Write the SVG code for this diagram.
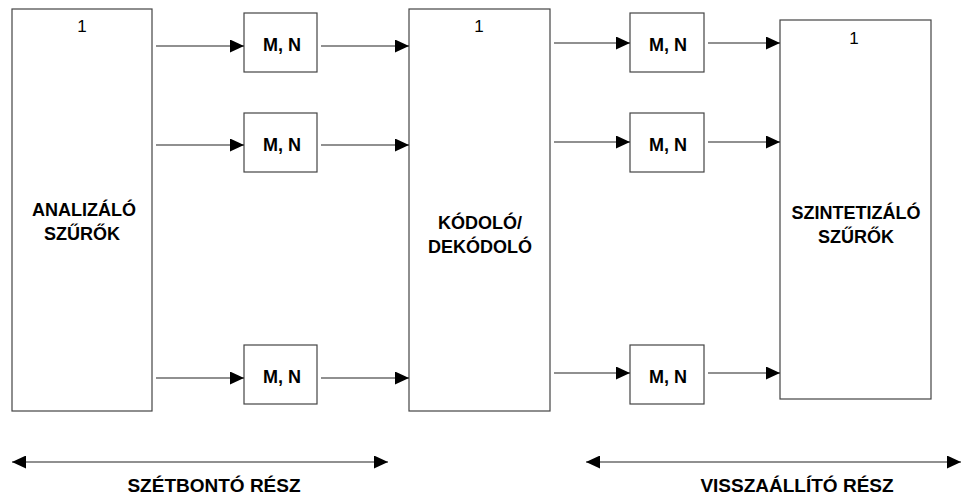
<svg xmlns="http://www.w3.org/2000/svg" width="962" height="499" viewBox="0 0 962 499">
<style>
.box{fill:#fff;stroke:#444;stroke-width:1.2}
.ln{stroke:#222;stroke-width:1.2;fill:none}
.lbl{font-family:"Liberation Sans",Arial,sans-serif;font-weight:bold;font-size:18px;fill:#000;text-anchor:middle}
.big{font-size:19px}
.num{font-family:"Liberation Sans",Arial,sans-serif;font-size:17px;fill:#000;text-anchor:middle}
</style>
<defs>
<marker id="ah" viewBox="0 0 14 13" refX="14" refY="6.5" markerWidth="14" markerHeight="13" markerUnits="userSpaceOnUse" orient="auto">
<path d="M0,0 L14,6.5 L0,13 Z" fill="#000"/>
</marker>
<marker id="ahs" viewBox="0 0 14 13" refX="0" refY="6.5" markerWidth="14" markerHeight="13" markerUnits="userSpaceOnUse" orient="auto">
<path d="M14,0 L0,6.5 L14,13 Z" fill="#000"/>
</marker>
</defs>
<rect width="962" height="499" fill="#fff"/>
<g id="analizalo">
<rect class="box" x="12" y="9" width="140" height="402"/>
<text class="num" x="82" y="32">1</text>
<text class="lbl" x="84" y="216">ANALIZÁLÓ</text>
<text class="lbl" x="82" y="240">SZŰRŐK</text>
</g>
<g id="mn1"><rect class="box" x="244" y="13" width="73" height="59"/><text class="lbl" x="282" y="51">M, N</text></g>
<g id="mn2"><rect class="box" x="244" y="113" width="73" height="59"/><text class="lbl" x="282" y="151">M, N</text></g>
<g id="mn3"><rect class="box" x="244" y="345" width="73" height="59"/><text class="lbl" x="282" y="383">M, N</text></g>
<g id="kodolo">
<rect class="box" x="409" y="9" width="141" height="402"/>
<text class="num" x="479" y="32">1</text>
<text class="lbl" x="480" y="229">KÓDOLÓ/</text>
<text class="lbl" x="480" y="253">DEKÓDOLÓ</text>
</g>
<g id="mn4"><rect class="box" x="630" y="13" width="74" height="59"/><text class="lbl" x="668" y="51">M, N</text></g>
<g id="mn5"><rect class="box" x="630" y="113" width="74" height="59"/><text class="lbl" x="668" y="151">M, N</text></g>
<g id="mn6"><rect class="box" x="630" y="345" width="74" height="59"/><text class="lbl" x="668" y="383">M, N</text></g>
<g id="szintetizalo">
<rect class="box" x="780" y="20" width="151" height="379"/>
<text class="num" x="854" y="44">1</text>
<text class="lbl" x="856" y="219">SZINTETIZÁLÓ</text>
<text class="lbl" x="856" y="243">SZŰRŐK</text>
</g>
<g id="connectors">
<line class="ln" x1="156" y1="46" x2="244" y2="46" marker-end="url(#ah)"/>
<line class="ln" x1="156" y1="145" x2="244" y2="145" marker-end="url(#ah)"/>
<line class="ln" x1="156" y1="378" x2="244" y2="378" marker-end="url(#ah)"/>
<line class="ln" x1="321" y1="46" x2="409" y2="46" marker-end="url(#ah)"/>
<line class="ln" x1="321" y1="145" x2="409" y2="145" marker-end="url(#ah)"/>
<line class="ln" x1="321" y1="378" x2="409" y2="378" marker-end="url(#ah)"/>
<line class="ln" x1="554" y1="43" x2="630" y2="43" marker-end="url(#ah)"/>
<line class="ln" x1="554" y1="142" x2="630" y2="142" marker-end="url(#ah)"/>
<line class="ln" x1="554" y1="373" x2="630" y2="373" marker-end="url(#ah)"/>
<line class="ln" x1="708" y1="43" x2="780" y2="43" marker-end="url(#ah)"/>
<line class="ln" x1="708" y1="142" x2="780" y2="142" marker-end="url(#ah)"/>
<line class="ln" x1="708" y1="373" x2="780" y2="373" marker-end="url(#ah)"/>
<line class="ln" x1="12" y1="462" x2="388" y2="462" marker-start="url(#ahs)" marker-end="url(#ah)"/>
<line class="ln" x1="586" y1="462" x2="961" y2="462" marker-start="url(#ahs)" marker-end="url(#ah)"/>
</g>
<text class="lbl big" x="214" y="492">SZÉTBONTÓ RÉSZ</text>
<text class="lbl big" x="797" y="492">VISSZAÁLLÍTÓ RÉSZ</text>
</svg>
